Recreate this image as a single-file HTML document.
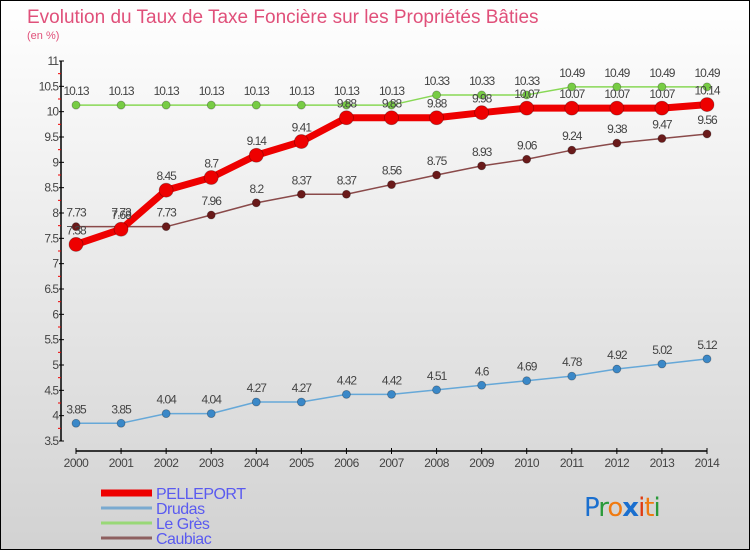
<!DOCTYPE html>
<html><head><meta charset="utf-8"><style>
html,body{margin:0;padding:0}
body{width:750px;height:550px;overflow:hidden;font-family:"Liberation Sans",sans-serif}
#wrap{position:relative;width:748px;height:548px;border:1px solid #000;background:linear-gradient(#ffffff,#d2d2d2)}
</style></head><body>
<div id="wrap">
<svg id="chart" width="748" height="548" style="position:absolute;left:0;top:0">
<text x="26" y="22" font-size="19" fill="#e0507a">Evolution du Taux de Taxe Foncière sur les Propriétés Bâties</text>
<text x="26" y="38" font-size="11" fill="#e0507a">(en %)</text>
<g id="axes"></g>
<g id="series"></g>
<g id="legend"></g>
<text x="583" y="515" font-size="26" font-family="'DejaVu Sans',sans-serif" letter-spacing="-1"><tspan fill="#1a6fcf">P</tspan><tspan fill="#2a9a3a">r</tspan><tspan fill="#f07a10">o</tspan><tspan fill="#1a6fcf" font-weight="bold">x</tspan><tspan fill="#e03a10">i</tspan><tspan fill="#f07a10">t</tspan><tspan fill="#2a9a3a">i</tspan></text>
</svg>
</div>
<script>
const years = [2000,2001,2002,2003,2004,2005,2006,2007,2008,2009,2010,2011,2012,2013,2014];
const pelleport = [7.38,7.68,8.45,8.7,9.14,9.41,9.88,9.88,9.88,9.98,10.07,10.07,10.07,10.07,10.14];
const drudas = [3.85,3.85,4.04,4.04,4.27,4.27,4.42,4.42,4.51,4.6,4.69,4.78,4.92,5.02,5.12];
const legres = [10.13,10.13,10.13,10.13,10.13,10.13,10.13,10.13,10.33,10.33,10.33,10.49,10.49,10.49,10.49];
const caubiac = [7.73,7.73,7.73,7.96,8.2,8.37,8.37,8.56,8.75,8.93,9.06,9.24,9.38,9.47,9.56];
const yTicks = [3.5,4,4.5,5,5.5,6,6.5,7,7.5,8,8.5,9,9.5,10,10.5,11];
const yMin = 3.5, yMax = 11;
const NS = "http://www.w3.org/2000/svg";
function xs(i){return 75 + i*(706-75)/(years.length-1);}
function ys(v){return 440 - (v-yMin)*(380/(yMax-yMin));}
function mk(tag, attrs, parent){const e=document.createElementNS(NS,tag);for(const k in attrs)e.setAttribute(k,attrs[k]);parent.appendChild(e);return e;}
const axes=document.getElementById('axes');
const yAxis = mk('line',{x1:60,y1:ys(yMax),x2:60,y2:ys(yMin),stroke:'#000','stroke-width':1.5},axes);


for(let v=yMin; v<yMax; v+=0.5){
  const m = mk('line',{x1:57,y1:ys(v+0.25),x2:60,y2:ys(v+0.25),stroke:'#e00','stroke-width':1},axes);
  
  
}
yTicks.forEach(v=>{
  const t = mk('line',{x1:58,y1:ys(v),x2:63,y2:ys(v),stroke:'#000'},axes);
  
  
  const l = mk('text',{x:57,y:ys(v)+4,'text-anchor':'end','font-size':12,fill:'#444','letter-spacing':'-1'},axes);
  l.textContent = String(v);
  
  
});
const xAxis = mk('line',{x1:75,y1:450,x2:706,y2:450,stroke:'#000','stroke-width':1.5},axes);


years.forEach((yr,i)=>{
  const t = mk('line',{x1:xs(i),y1:447,x2:xs(i),y2:453,stroke:'#000'},axes);
  
  
  const l = mk('text',{x:xs(i),y:466,'text-anchor':'middle','font-size':12,fill:'#444','letter-spacing':'-0.5'},axes);
  l.textContent = String(yr);
  
  
});
const seriesG=document.getElementById('series');
function drawSeries(name, vals, color, dot, width, r){
  const g = mk('g',{},seriesG);
  
  
  const pts = vals.map((v,i)=>xs(i)+','+ys(v)).join(' ');
  const pl = mk('polyline',{points:pts,fill:'none',stroke:color,'stroke-width':width,'stroke-linejoin':'round'},g);
  
  
  vals.forEach((v,i)=>{
    const c = mk('circle',{cx:xs(i),cy:ys(v),r:r,fill:dot,stroke:'rgba(0,0,0,0.3)','stroke-width':0.8},g);
    
    
    const t = mk('text',{x:xs(i),y:ys(v)-10,'text-anchor':'middle','font-size':12,fill:'#444','letter-spacing':'-1'},g);
    t.textContent = String(v);
    
    
  });
}
drawSeries('legres', legres, '#88d855', '#77cc44', 1.5, 4);
drawSeries('caubiac', caubiac, '#8a4a4a', '#6a1a1a', 1.5, 4);
drawSeries('drudas', drudas, '#66a8d8', '#3a88c8', 1.5, 4);
drawSeries('pelleport', pelleport, '#ee0000', '#ee0000', 7, 7);
const leg=document.getElementById('legend');
const legItems=[['PELLEPORT','#ee0000',7],['Drudas','#7aaad0',3],['Le Grès','#99d877',3],['Caubiac','#8e6060',3]];
legItems.forEach((it,i)=>{
  const y = 492 + i*15;
  const g = mk('g',{},leg);
  
  
  const ln = mk('line',{x1:100,y1:y,x2:151,y2:y,stroke:it[1],'stroke-width':it[2]},g);
  
  
  const t = mk('text',{x:155,y:y+6,'font-size':16,fill:'#5a5af0','letter-spacing':'-0.5'},g);
  t.textContent = it[0];
  
  
});
</script>
</body></html>
